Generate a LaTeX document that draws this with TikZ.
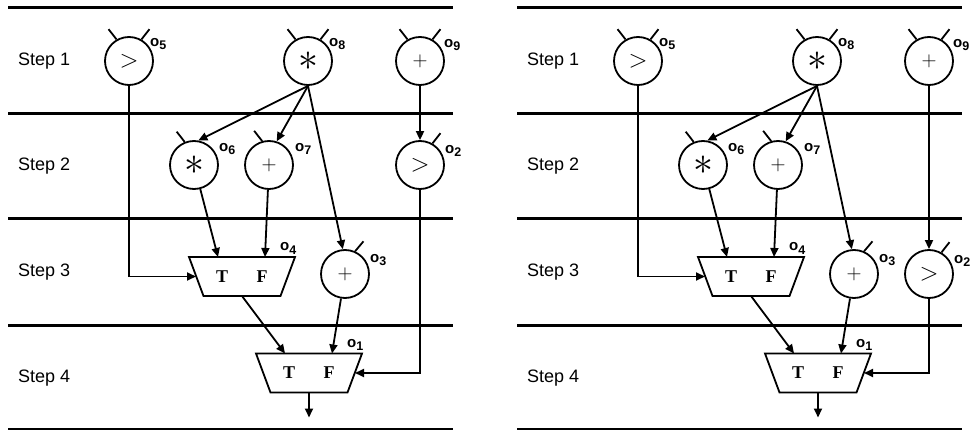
\documentclass[tikz,border=0pt]{standalone}
\usepackage{fontspec}
\setmainfont{Liberation Sans}
\newfontfamily\muxfont{Liberation Serif}
\usetikzlibrary{arrows.meta,calc}

\tikzset{
  every node/.style={inner sep=0pt},
  op/.style={circle, draw, line width=1.8pt, minimum size=48pt},
  conn/.style={line width=1.8pt, -{Triangle[length=9pt,width=8pt]}},
  plain/.style={line width=1.8pt},
  stepline/.style={line width=3pt},
  steplbl/.style={anchor=west, font=\fontsize{18}{20}\selectfont},
  olbl/.style={anchor=base west},
  muxbox/.style={minimum width=106pt, minimum height=39pt, outer sep=0pt},
  muxtxt/.style={font=\muxfont\bfseries\fontsize{18}{20}\selectfont},
}
\newcommand\olab[1]{{\fontsize{15}{15}\selectfont\bfseries o}\raisebox{-3pt}{\fontsize{12.5}{12.5}\selectfont\bfseries #1}}
\newcommand\mystar{\scalebox{1.6}{\fontsize{24.88}{25}\selectfont$\ast$}}
\newcommand\gtsym{\fontsize{24.88}{25}\selectfont$>$}
\newcommand\plussym{\fontsize{20.74}{21}\selectfont$+$}

\newcommand\drawpanel[4]{%
\begin{scope}[xshift=#2, name prefix=#1-]
  \foreach \yy in {8,114,219,325} {\draw[stepline] (8,-\yy) -- (453,-\yy);}
  \draw[line width=2.2pt] (8,-428.8) -- (453,-428.8);
  \node[steplbl] (s1) at (18,-61) {Step 1};
  \node[steplbl] (s2) at (18,-166) {Step 2};
  \node[steplbl] (s3) at (18,-272) {Step 3};
  \node[steplbl] (s4) at (18,-378) {Step 4};
  % operation nodes
  \node[op] (o5) at (129,-61) {\gtsym};
  \node[op] (o8) at (308,-61) {\mystar};
  \node[op] (o9) at (420,-61) {\plussym};
  \node[op] (o6) at (194,-165) {\mystar};
  \node[op] (o7) at (269,-165) {\plussym};
  \node[op] (o2) at (420,-#3) {\gtsym};
  \node[op] (o3) at (345,-274) {\plussym};
  \node[muxbox] (o4) at (242,-276.5) {};
  \node[muxbox] (o1) at (309,-373) {};
  \draw[plain] ([xshift=-53pt]o4.north) -- ([xshift=53pt]o4.north) -- ([xshift=38.5pt]o4.south) -- ([xshift=-38.5pt]o4.south) -- cycle;
  \draw[plain] ([xshift=-53pt]o1.north) -- ([xshift=53pt]o1.north) -- ([xshift=38.5pt]o1.south) -- ([xshift=-38.5pt]o1.south) -- cycle;
  \node[muxtxt] (t4) at ([xshift=-20pt]o4.center) {T};
  \node[muxtxt] (f4) at ([xshift=20pt]o4.center) {F};
  \node[muxtxt] (t1) at ([xshift=-20pt]o1.center) {T};
  \node[muxtxt] (f1) at ([xshift=20pt]o1.center) {F};
  % labels
  \node[olbl] (l5) at (150,-46.5) {\olab{5}};
  \node[olbl] (l8) at (329,-46.5) {\olab{8}};
  \node[olbl] (l9) at (444,-48) {\olab{9}};
  \node[olbl] (l6) at (219,-152) {\olab{6}};
  \node[olbl] (l7) at (295,-152) {\olab{7}};
  \node[olbl] (l2) at (445,-#4) {\olab{2}};
  \node[olbl] (l3) at (370,-262) {\olab{3}};
  \node[olbl] (l4) at (280,-251) {\olab{4}};
  \node[olbl] (l1) at (347,-347) {\olab{1}};
  % input stubs
  \draw[plain] (o5.120) -- ++(128:13);
  \draw[plain] (o5.60) -- ++(52:13);
  \draw[plain] (o8.120) -- ++(128:13);
  \draw[plain] (o8.60) -- ++(52:13);
  \draw[plain] (o9.120) -- ++(128:13);
  \draw[plain] (o9.60) -- ++(52:13);
  \draw[plain] (o6.112) -- ++(128:13);
  \draw[plain] (o7.106) -- ++(128:13);
  \draw[plain] (o2.60) -- ++(52:13);
  \draw[plain] (o3.66) -- ++(50:13);
  % connectors
  \draw[conn] (o5.south) |- ([xshift=-46pt]o4.center);
  \draw[conn] (o8.south) -- (o6.80);
  \draw[conn] (o8.south) -- (o7.72);
  \draw[conn] (o8.south) -- (o3.95);
  \draw[conn] (o9) -- (o2);
  \draw[conn] (o6) -- ([xshift=-24pt]o4.north);
  \draw[conn] (o7) -- ([xshift=23pt]o4.north);
  \draw[conn] (o4.south) -- ([xshift=-24pt]o1.north);
  \draw[conn] (o3) -- ([xshift=23pt]o1.north);
  \draw[conn] (o2.south) |- ([xshift=46pt]o1.center);
  \draw[conn] (o1.south) -- ([yshift=-25pt]o1.south);
\end{scope}}

\begin{document}
\begin{tikzpicture}[x=1pt,y=1pt]
  \useasboundingbox (0,0) rectangle (973,-430);
  \drawpanel{L}{0pt}{165}{154}
  \drawpanel{R}{509pt}{274}{263}
\end{tikzpicture}
\end{document}
